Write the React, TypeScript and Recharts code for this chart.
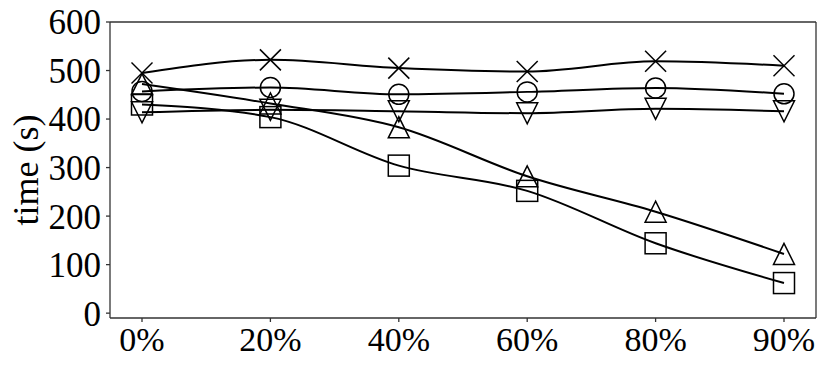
import { CartesianGrid, Line, LineChart, XAxis, YAxis } from "recharts"

const categories = ["0%", "20%", "40%", "60%", "80%", "90%"]
const crossSeries = [495, 522, 505, 498, 519, 510]
const circleSeries = [457, 465, 451, 456, 464, 452]
const downSeries = [414, 419, 416, 412, 421, 416]
const upSeries = [472, 432, 383, 282, 209, 122]
const squareSeries = [430, 404, 304, 252, 144, 62]
const yTicks = [0, 100, 200, 300, 400, 500, 600]

const data = categories.map((c, i) => ({
  cat: c,
  cross: crossSeries[i],
  circle: circleSeries[i],
  down: downSeries[i],
  up: upSeries[i],
  square: squareSeries[i],
}))

const FONT = "Liberation Serif"
const INK = "#000"
const S = 10.5

type Shape = "cross" | "circle" | "down" | "up" | "square"

function marker(shape: Shape) {
  return (p: any) => {
    const { cx, cy, index } = p
    const k = `${shape}-${index}`
    if (cx == null || cy == null) return <g key={k} />
    const common = { fill: "none", stroke: INK, strokeWidth: 1.5 }
    if (shape === "cross")
      return (
        <g key={k} {...common}>
          <line x1={cx - S} y1={cy - S} x2={cx + S} y2={cy + S} />
          <line x1={cx - S} y1={cy + S} x2={cx + S} y2={cy - S} />
        </g>
      )
    if (shape === "circle") return <circle key={k} cx={cx} cy={cy} r={S - 0.5} {...common} />
    if (shape === "square")
      return <rect key={k} x={cx - S} y={cy - S} width={2 * S} height={2 * S} {...common} />
    if (shape === "up")
      return <polygon key={k} points={`${cx},${cy - S} ${cx - S},${cy + S} ${cx + S},${cy + S}`} {...common} />
    return <polygon key={k} points={`${cx},${cy + S} ${cx - S},${cy - S} ${cx + S},${cy - S}`} {...common} />
  }
}

const series: Shape[] = ["cross", "circle", "down", "up", "square"]

export default function App() {
  return (
    <div style={{ position: "absolute", left: 0, top: 0, fontFamily: FONT }}>
      <LineChart width={831} height={370} data={data} margin={{ top: 22, right: 15, left: 0, bottom: 0 }}>
        <CartesianGrid
          stroke="#333"
          strokeWidth={1.3}
          horizontalCoordinatesGenerator={({ offset }: any) => [offset.top]}
          verticalCoordinatesGenerator={({ offset }: any) => [offset.left + offset.width]}
        />
        <XAxis
          dataKey="cat"
          padding={{ left: 32, right: 32 }}
          height={52}
          tick={{ fontSize: 34, fill: INK, fontFamily: FONT }}
          tickSize={4}
          tickMargin={5}
          stroke="#333"
          strokeWidth={1.3}
          interval={0}
        />
        <YAxis
          domain={[-10, 600]}
          ticks={yTicks}
          width={110}
          tick={{ fontSize: 35, fill: INK, fontFamily: FONT }}
          tickSize={4}
          tickMargin={5}
          stroke="#333"
          strokeWidth={1.3}
          allowDataOverflow
          label={{
            content: ({ viewBox }: any) => {
              const x = viewBox.x + 26
              const y = viewBox.y + viewBox.height / 2
              return (
                <text x={x} y={y} transform={`rotate(-90 ${x} ${y})`} textAnchor="middle" dominantBaseline="central" fontSize={36} fontFamily={FONT} fill={INK}>
                  time (s)
                </text>
              )
            },
          }}
        />
        {series.map((s) => (
          <Line
            key={s}
            dataKey={s}
            type="monotone"
            stroke={INK}
            strokeWidth={2}
            dot={marker(s)}
            activeDot={false}
            isAnimationActive={false}
          />
        ))}
      </LineChart>
    </div>
  )
}
